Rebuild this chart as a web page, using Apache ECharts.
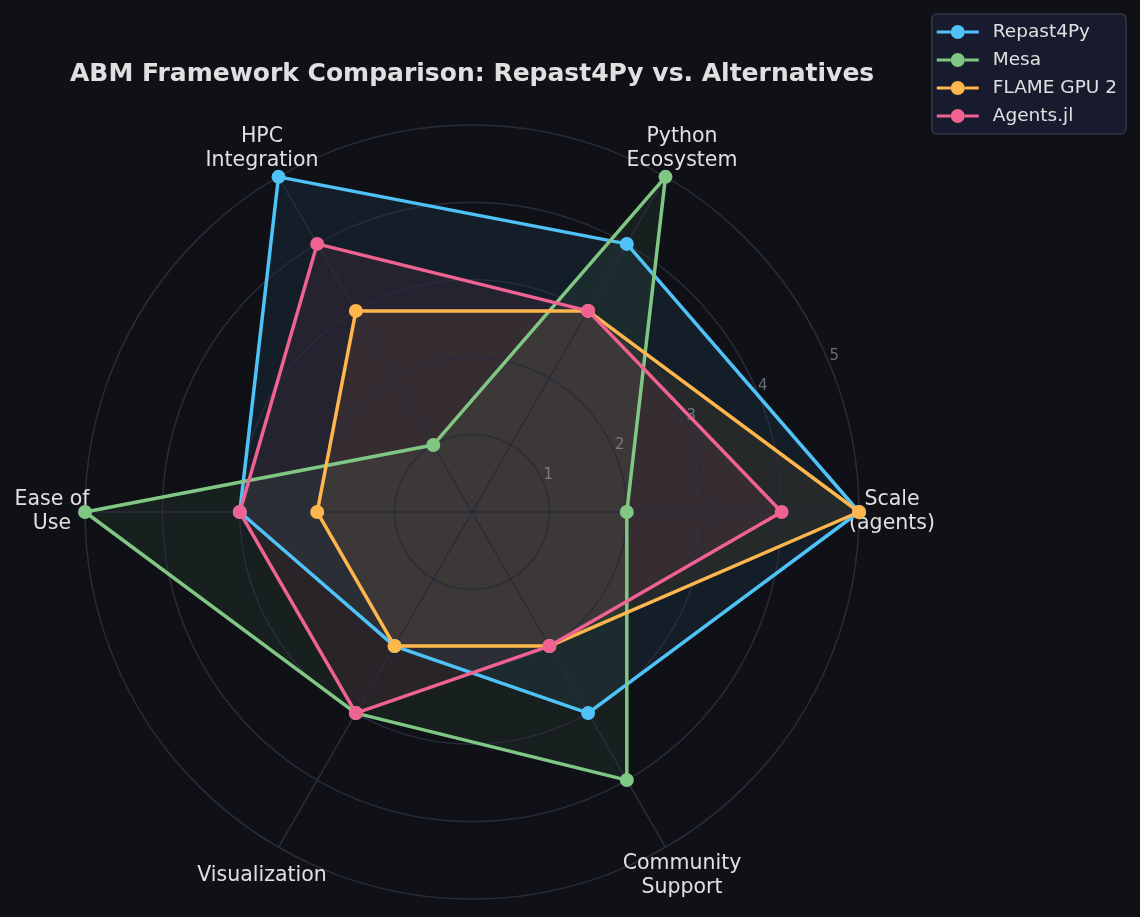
<!DOCTYPE html>
<html>
<head>
<meta charset="utf-8">
<script src="https://cdn.jsdelivr.net/npm/echarts@6/dist/echarts.min.js"></script>
<style>
  html, body { margin: 0; padding: 0; background: #0f1117; }
  #chart { width: 1140px; height: 917px; }
</style>
</head>
<body>
<div id="chart"></div>
<script>
// Criteria around the radar, counter-clockwise from the right
const criteria = ['Scale\n(agents)', 'Python\nEcosystem', 'HPC\nIntegration', 'Ease of\nUse', 'Visualization', 'Community\nSupport'];
const frameworks = ['Repast4Py', 'Mesa', 'FLAME GPU 2', 'Agents.jl'];
const repast4py = [5, 4, 5, 3, 2, 3];
const mesa = [2, 5, 1, 5, 3, 4];
const flameGpu2 = [5, 3, 3, 2, 2, 2];
const agentsJl = [4, 3, 4, 3, 3, 2];
const ringTicks = [1, 2, 3, 4, 5];

const colors = ['#4fc3f7', '#81c784', '#ffb74d', '#f06292'];
const scores = [repast4py, mesa, flameGpu2, agentsJl];
const gridColor = '#2a2c3c';
const font = 'DejaVu Sans';

// legend icon: line with a dot in the middle
const legendIcon = 'path://M0,5.5 L14,5.5 L14,8.5 L0,8.5 Z M28,5.5 L42,5.5 L42,8.5 L28,8.5 Z M14,7 A7,7 0 1,1 28,7 A7,7 0 1,1 14,7 Z';

const chart = echarts.init(document.getElementById('chart'));

// fills sit under the grid, outlines and markers on top of everything
const fillSeries = frameworks.map((name, i) => ({
  type: 'radar',
  name: name,
  z: 1,
  symbol: 'none',
  lineStyle: { width: 0 },
  itemStyle: { color: colors[i] },
  areaStyle: { color: colors[i], opacity: 0.08 },
  silent: true,
  data: [{ name: name, value: scores[i] }]
}));
const lineSeries = frameworks.map((name, i) => ({
  type: 'radar',
  name: name,
  z: 3,
  symbol: 'circle',
  symbolSize: 14,
  itemStyle: { color: colors[i] },
  lineStyle: { color: colors[i], width: 3.5 },
  data: [{ name: name, value: scores[i] }]
}));

chart.setOption({
  backgroundColor: '#0f1117',
  animation: false,
  title: {
    text: 'ABM Framework Comparison: Repast4Py vs. Alternatives',
    left: 65,
    top: 57,
    textStyle: { color: '#e0e0e0', fontSize: 25, fontWeight: 'bold', fontFamily: font }
  },
  legend: {
    data: frameworks,
    orient: 'vertical',
    right: 14,
    top: 14,
    icon: legendIcon,
    itemWidth: 42,
    itemHeight: 14,
    itemGap: 8,
    padding: [8, 9, 8, 5],
    backgroundColor: '#181a2e',
    borderColor: '#34364a',
    borderWidth: 1.5,
    borderRadius: 5,
    textStyle: { color: '#e0e0e0', fontSize: 18.5, lineHeight: 20, fontFamily: font, padding: [0, 0, 0, 9] }
  },
  radar: {
    z: 2,
    center: [472, 512],
    radius: 387,
    startAngle: 0,
    shape: 'circle',
    splitNumber: 5,
    nameGap: 33,
    indicator: criteria.map(name => ({ name: name, min: 0, max: 5 })),
    axisName: {
      color: '#e0e0e0',
      fontSize: 20.5,
      lineHeight: 24,
      fontFamily: font,
      align: 'center',
      verticalAlign: 'middle'
    },
    axisLine: { lineStyle: { color: gridColor, width: 1.5 } },
    splitLine: { lineStyle: { color: gridColor, width: 1.5 } },
    splitArea: { show: false }
  },
  // polar overlay only used for the ring value labels at 22.5 deg
  polar: { center: [472, 512], radius: 387 },
  angleAxis: { type: 'value', min: 0, max: 360, startAngle: 22.5, show: false },
  radiusAxis: {
    type: 'value',
    min: 0,
    max: 5,
    interval: 1,
    axisLine: { show: false },
    axisTick: { show: false },
    splitLine: { show: false },
    axisLabel: {
      color: '#6a6c78',
      fontSize: 15,
      fontFamily: font,
      margin: 0,
      align: 'left',
      verticalAlign: 'bottom',
      formatter: v => (ringTicks.indexOf(v) >= 0 ? String(v) : '')
    }
  },
  series: fillSeries.concat(lineSeries)
});
</script>
</body>
</html>
